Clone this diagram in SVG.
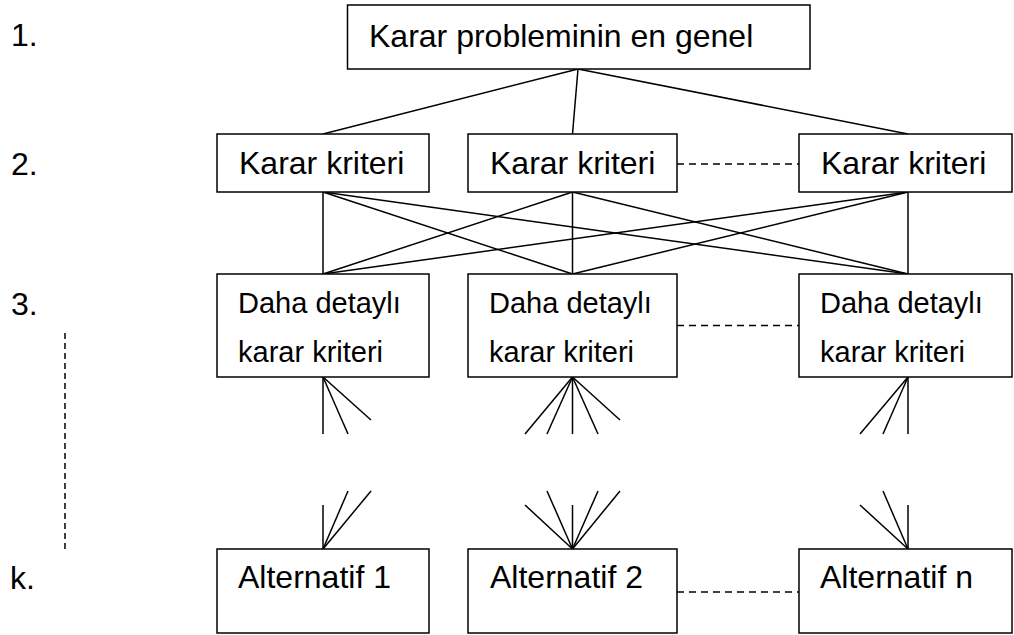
<svg xmlns="http://www.w3.org/2000/svg" width="1014" height="635" viewBox="0 0 1014 635">
  <style>
    .box { fill: #ffffff; stroke: #000000; stroke-width: 1.5; }
    .lbl { font-family: "Liberation Sans", Arial, sans-serif; font-size: 32px; fill: #000000; }
    .sm { font-family: "Liberation Sans", Arial, sans-serif; font-size: 29px; fill: #000000; }
    .ln { stroke: #000000; stroke-width: 1.5; fill: none; }
    .dash { stroke: #000000; stroke-width: 1.5; fill: none; stroke-dasharray: 7 5; }
    .vdash { stroke: #000000; stroke-width: 1.5; fill: none; stroke-dasharray: 6 4; }
  </style>

  <rect width="1014" height="635" fill="#ffffff"/>

  <!-- level numbers -->
  <g id="levels">
    <text class="lbl" x="11" y="46">1.</text>
    <text class="lbl" x="11" y="175">2.</text>
    <text class="lbl" x="11" y="315">3.</text>
    <text class="lbl" x="10" y="589">k.</text>
    <line class="vdash" x1="65" y1="333" x2="65" y2="549"/>
  </g>

  <!-- connectors -->
  <g id="connectors">
    <!-- goal to criteria -->
    <line class="ln" x1="578" y1="69" x2="323" y2="134"/>
    <line class="ln" x1="578" y1="69" x2="572.5" y2="134"/>
    <line class="ln" x1="578" y1="69" x2="908" y2="134"/>
    <!-- criteria to sub-criteria (all pairs) -->
    <line class="ln" x1="323" y1="192" x2="323" y2="274"/>
    <line class="ln" x1="323" y1="192" x2="572.5" y2="274"/>
    <line class="ln" x1="323" y1="192" x2="908" y2="274"/>
    <line class="ln" x1="572.5" y1="192" x2="323" y2="274"/>
    <line class="ln" x1="572.5" y1="192" x2="572.5" y2="274"/>
    <line class="ln" x1="572.5" y1="192" x2="908" y2="274"/>
    <line class="ln" x1="908" y1="192" x2="323" y2="274"/>
    <line class="ln" x1="908" y1="192" x2="572.5" y2="274"/>
    <line class="ln" x1="908" y1="192" x2="908" y2="274"/>
    <!-- fans leaving sub-criteria -->
    <line class="ln" x1="323" y1="377" x2="323" y2="434"/>
    <line class="ln" x1="323" y1="377" x2="348" y2="434"/>
    <line class="ln" x1="323" y1="377" x2="371" y2="420"/>
    <line class="ln" x1="572.5" y1="377" x2="525" y2="434"/>
    <line class="ln" x1="572.5" y1="377" x2="547" y2="434"/>
    <line class="ln" x1="572.5" y1="377" x2="572.5" y2="434"/>
    <line class="ln" x1="572.5" y1="377" x2="598" y2="434"/>
    <line class="ln" x1="572.5" y1="377" x2="620" y2="420"/>
    <line class="ln" x1="908" y1="377" x2="860" y2="434"/>
    <line class="ln" x1="908" y1="377" x2="883" y2="434"/>
    <line class="ln" x1="908" y1="377" x2="908" y2="434"/>
    <!-- fans entering alternatives -->
    <line class="ln" x1="323" y1="505" x2="323" y2="549"/>
    <line class="ln" x1="348" y1="491" x2="323" y2="549"/>
    <line class="ln" x1="371" y1="491" x2="323" y2="549"/>
    <line class="ln" x1="525" y1="505" x2="572.5" y2="549"/>
    <line class="ln" x1="547" y1="491" x2="572.5" y2="549"/>
    <line class="ln" x1="572.5" y1="505" x2="572.5" y2="549"/>
    <line class="ln" x1="598" y1="491" x2="572.5" y2="549"/>
    <line class="ln" x1="620" y1="491" x2="572.5" y2="549"/>
    <line class="ln" x1="860" y1="505" x2="908" y2="549"/>
    <line class="ln" x1="883" y1="491" x2="908" y2="549"/>
    <line class="ln" x1="908" y1="505" x2="908" y2="549"/>
    <!-- dashed continuation links -->
    <line class="dash" x1="677" y1="164" x2="799" y2="164"/>
    <line class="dash" x1="677" y1="325.5" x2="799" y2="325.5"/>
    <line class="dash" x1="677" y1="592" x2="799" y2="592"/>
  </g>

  <!-- goal -->
  <g id="goal">
    <rect class="box" x="347.5" y="5" width="462.5" height="64"/>
    <text class="lbl" x="369" y="47">Karar probleminin en genel</text>
  </g>

  <!-- criteria -->
  <g id="criterion-1">
    <rect class="box" x="217" y="134" width="212" height="58"/>
    <text class="lbl" x="239" y="174">Karar kriteri</text>
  </g>
  <g id="criterion-2">
    <rect class="box" x="468" y="134" width="209" height="58"/>
    <text class="lbl" x="490" y="174">Karar kriteri</text>
  </g>
  <g id="criterion-n">
    <rect class="box" x="799" y="134" width="213" height="58"/>
    <text class="lbl" x="821" y="174">Karar kriteri</text>
  </g>

  <!-- sub-criteria -->
  <g id="subcriterion-1">
    <rect class="box" x="217" y="274" width="212" height="103"/>
    <text class="sm" x="238" y="313">Daha detaylı</text>
    <text class="sm" x="238" y="362">karar kriteri</text>
  </g>
  <g id="subcriterion-2">
    <rect class="box" x="468" y="274" width="209" height="103"/>
    <text class="sm" x="489" y="313">Daha detaylı</text>
    <text class="sm" x="489" y="362">karar kriteri</text>
  </g>
  <g id="subcriterion-n">
    <rect class="box" x="799" y="274" width="213" height="103"/>
    <text class="sm" x="820" y="313">Daha detaylı</text>
    <text class="sm" x="820" y="362">karar kriteri</text>
  </g>

  <!-- alternatives -->
  <g id="alternative-1">
    <rect class="box" x="217" y="549" width="212" height="84"/>
    <text class="lbl" x="238" y="588">Alternatif 1</text>
  </g>
  <g id="alternative-2">
    <rect class="box" x="468" y="549" width="209" height="84"/>
    <text class="lbl" x="490" y="588">Alternatif 2</text>
  </g>
  <g id="alternative-n">
    <rect class="box" x="799" y="549" width="213" height="84"/>
    <text class="lbl" x="820" y="588">Alternatif n</text>
  </g>
</svg>
